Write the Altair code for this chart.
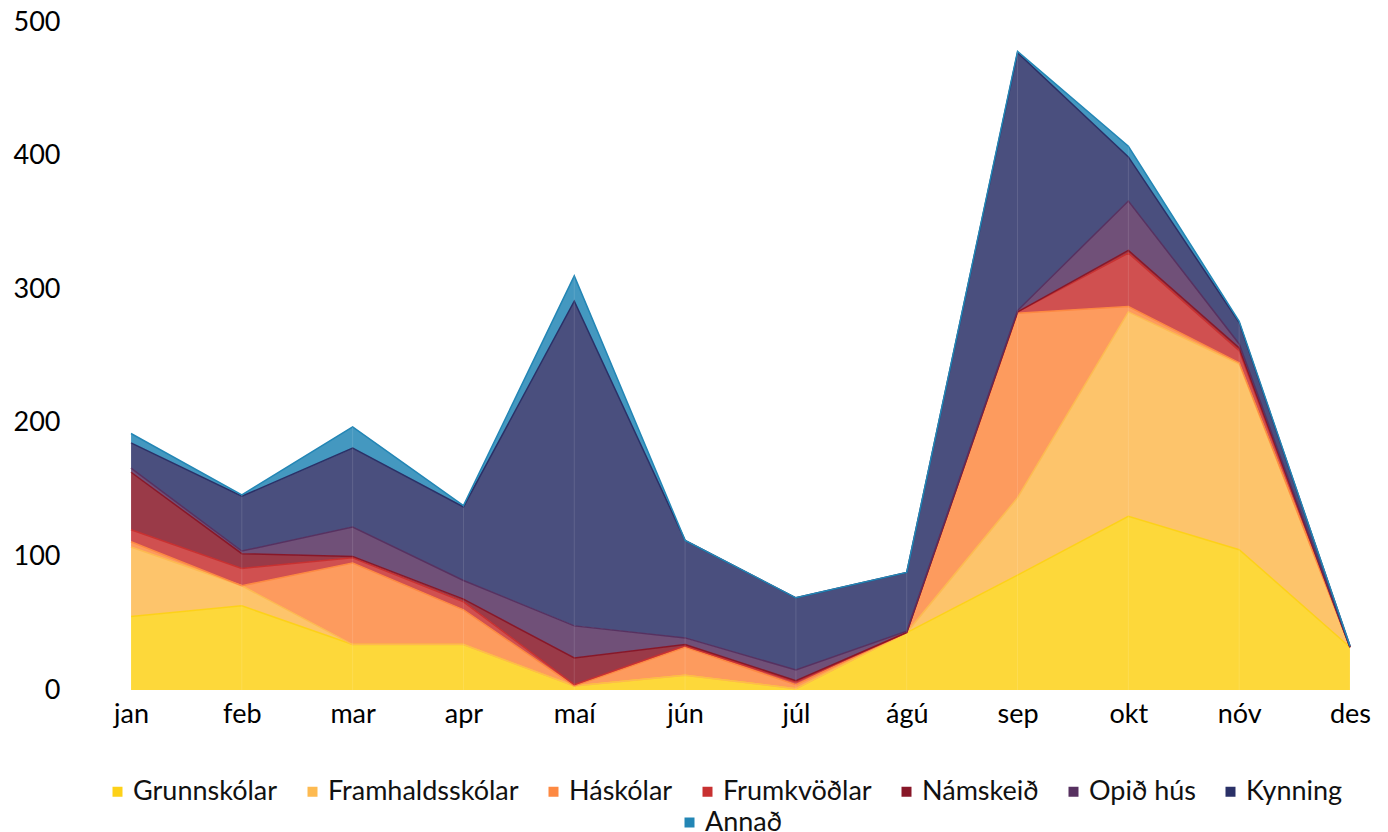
import altair as alt
import pandas as pd

months = ["jan", "feb", "mar", "apr", "maí", "jún", "júl", "ágú", "sep", "okt", "nóv", "des"]
series = ["Grunnskólar", "Framhaldsskólar", "Háskólar", "Frumkvöðlar",
          "Námskeið", "Opið hús", "Kynning", "Annað"]
colors = ["#FDD118", "#FDBA51", "#FD8942", "#C83131",
          "#881728", "#573160", "#2A3067", "#2386B5"]

grunnskolar     = [55, 63, 34, 34, 3, 11, 1, 43, 86, 130, 105, 32]
framhaldsskolar = [52, 15, 0, 0, 0, 0, 0, 0, 58, 153, 139, 0]
haskolar        = [4, 0, 61, 26, 0, 21, 3, 0, 138, 4, 1, 0]
frumkvodlar     = [9, 13, 4, 6, 1, 1, 2, 0, 1, 40, 9, 0]
namskeid        = [43, 11, 1, 2, 20, 1, 1, 0, 0, 2, 2, 0]
opid_hus        = [3, 2, 22, 14, 24, 5, 8, 1, 1, 37, 3, 0]
kynning         = [19, 41, 59, 55, 243, 73, 54, 44, 193, 33, 16, 1]
annad           = [7, 1, 16, 1, 19, 0, 0, 0, 1, 8, 1, 0]

values = [grunnskolar, framhaldsskolar, haskolar, frumkvodlar,
          namskeid, opid_hus, kynning, annad]

rows = []
for si, (name, vals) in enumerate(zip(series, values)):
    for m, v in zip(months, vals):
        rows.append({"month": m, "series": name, "value": v, "order": si})
df = pd.DataFrame(rows)

totals = pd.DataFrame({"month": months,
                       "total": [sum(v[i] for v in values) for i in range(len(months))]})

FONT = "Lato"
AX = 27
LG = 27

x_enc = alt.X("month:N", sort=months, title=None,
              scale=alt.Scale(type="point", padding=0),
              axis=alt.Axis(labelAngle=0, labelFontSize=AX, labelFont=FONT,
                            labelColor="#000", domain=False, ticks=False,
                            grid=False, labelPadding=11))

areas = alt.Chart(df).mark_area(opacity=0.85, line={"strokeWidth": 1.5}).encode(
    x=x_enc,
    y=alt.Y("value:Q", stack="zero", title=None,
            scale=alt.Scale(domain=[0, 500], nice=False),
            axis=alt.Axis(values=[0, 100, 200, 300, 400, 500], labelFontSize=AX,
                          labelFont=FONT, labelColor="#000", domain=False,
                          ticks=False, grid=False, labelPadding=71)),
    color=alt.Color("series:N", sort=series,
                    scale=alt.Scale(domain=series, range=colors),
                    legend=alt.Legend(values=series[:7], title=None, orient="none",
                                      direction="horizontal", legendX=-27, legendY=88 + 668,
                                      symbolType="square", symbolSize=100,
                                      symbolOpacity=1, symbolStrokeWidth=0,
                                      labelFontSize=LG, labelFont=FONT, labelLimit=400,
                                      labelColor="#111", labelOffset=2,
                                      columnPadding=21)),
    order=alt.Order("order:Q", sort="ascending"),
)

seams = alt.Chart(totals).mark_rule(color="white", opacity=0.12, strokeWidth=1).encode(
    x=alt.X("month:N", sort=months),
    y=alt.Y("total:Q"),
    y2=alt.datum(0),
)

extra = pd.DataFrame({"series": [series[7]]})
dummy = alt.Chart(extra).mark_square(size=0, opacity=0).encode(
    fill=alt.Fill("series:N",
                  scale=alt.Scale(domain=[series[7]], range=[colors[7]]),
                  legend=alt.Legend(title=None, orient="none", direction="horizontal",
                                    legendX=555 - 10, legendY=88 + 668 + 31,
                                    symbolType="square", symbolSize=100,
                                    symbolOpacity=1, symbolStrokeWidth=0,
                                    labelFontSize=LG, labelFont=FONT, labelLimit=400,
                                    labelColor="#111", labelOffset=2)),
)

chart = alt.layer(areas, seams, dummy).resolve_scale(color="independent").properties(
    width=1219, height=668,
    background="white",
    padding={"left": 5, "top": 0, "right": 5, "bottom": 0},
).configure_view(strokeWidth=0, stroke=None)

chart.save("out.html", embed_options={"renderer": "svg", "actions": False})
